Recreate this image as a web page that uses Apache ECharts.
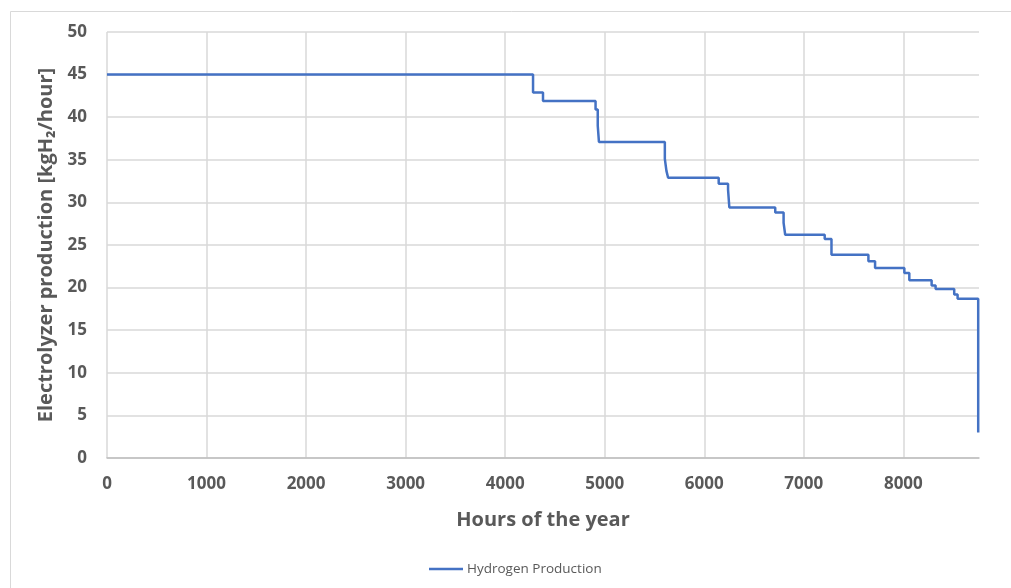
<!DOCTYPE html>
<html>
<head>
<meta charset="utf-8">
<script src="https://cdn.jsdelivr.net/npm/echarts@6/dist/echarts.min.js"></script>
<style>
html,body{margin:0;padding:0;background:#fff;}
#chart{width:1011px;height:588px;}
</style>
</head>
<body>
<div id="chart"></div>
<script>
// Step points: hour where a level starts, and the level (kgH2/hour)
const hours = [0, 4280, 4380, 4908, 4930, 4942, 5604, 5620, 5637, 6145, 6239, 6252, 6713, 6797, 6813, 7210, 7278, 7649, 7716, 8010, 8060, 8284, 8324, 8511, 8545, 8752];
const production = [45, 42.9, 41.9, 40.9, 39.0, 37.1, 35.1, 33.7, 32.9, 32.2, 31.5, 29.4, 28.8, 27.6, 26.2, 25.7, 23.85, 23.1, 22.3, 21.7, 20.85, 20.25, 19.85, 19.2, 18.7, 3.0];
const xTicks = [0, 1000, 2000, 3000, 4000, 5000, 6000, 7000, 8000];
const yTicks = [0, 5, 10, 15, 20, 25, 30, 35, 40, 45, 50];
const seriesName = 'Hydrogen Production';
const xTitle = 'Hours of the year';
const yTitle = 'Electrolyzer production [kgH\u2082/hour]';

const data = hours.map((h, i) => [h, production[i]]);
const font = '"Open Sans", "Liberation Sans", sans-serif';

const chart = echarts.init(document.getElementById('chart'), null, {renderer: 'canvas'});
chart.setOption({
  animation: false,
  backgroundColor: '#fff',
  graphic: [{
    type: 'rect', left: 8, top: 9, z: -1,
    shape: {width: 1010, height: 590},
    style: {fill: 'none', stroke: '#d9d9d9', lineWidth: 1}
  }],
  grid: {left: 107, top: 32, right: 32, bottom: 130, containLabel: false},
  xAxis: {
    type: 'value', min: 0, max: 8760, interval: 1000,
    name: xTitle, nameLocation: 'middle', nameGap: 52,
    nameTextStyle: {fontFamily: font, fontSize: 20, fontWeight: 'bold', color: '#595959'},
    axisLine: {show: true, lineStyle: {color: '#bfbfbf', width: 1.5}},
    axisTick: {show: false},
    axisLabel: {
      fontFamily: font, fontSize: 17, fontWeight: 'bold', color: '#595959', margin: 18,
      showMaxLabel: false,
      formatter: v => xTicks.includes(v) ? String(v) : ''
    },
    splitLine: {show: true, showMaxLine: false, lineStyle: {color: '#d9d9d9', width: 1.5}}
  },
  yAxis: {
    type: 'value', min: 0, max: 50, interval: 5,
    name: yTitle, nameLocation: 'middle', nameGap: 45, nameRotate: 90,
    nameTextStyle: {fontFamily: font, fontSize: 20, fontWeight: 'bold', color: '#595959'},
    axisLine: {show: false},
    axisTick: {show: false},
    axisLabel: {
      fontFamily: font, fontSize: 17, fontWeight: 'bold', color: '#595959', margin: 20,
      formatter: v => yTicks.includes(v) ? String(v) : ''
    },
    splitLine: {show: true, lineStyle: {color: '#d9d9d9', width: 1.5}}
  },
  legend: {
    show: true, left: 424, top: 557,
    icon: 'rect', itemWidth: 34, itemHeight: 2.5, itemGap: 10,
    textStyle: {fontFamily: font, fontSize: 13.5, color: '#595959', padding: [0, 0, 0, -1]},
    data: [seriesName]
  },
  series: [{
    name: seriesName, type: 'line', step: 'end', data: data,
    showSymbol: false, symbol: 'none',
    lineStyle: {color: '#4472c4', width: 2.5},
    itemStyle: {color: '#4472c4'}
  }]
});
</script>
</body>
</html>
